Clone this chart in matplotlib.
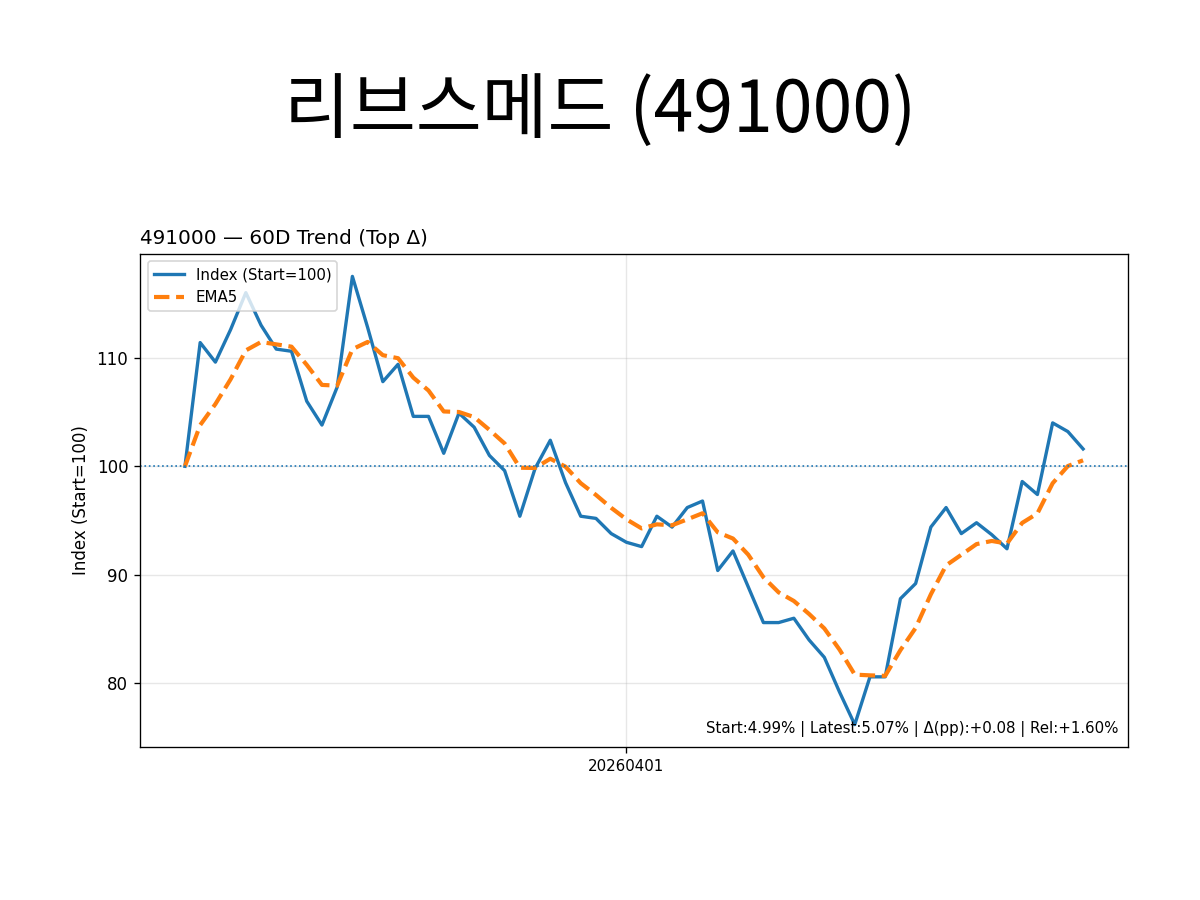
import numpy as np
import pandas as pd
import matplotlib
matplotlib.use("Agg")
import matplotlib.pyplot as plt

plt.rcParams['font.family'] = ['DejaVu Sans']

# 60-day index values (start = 100)
index_vals = [
    100.0, 111.4, 109.6, 112.6, 116.0, 113.0, 110.8, 110.6, 106.0, 103.8,
    107.3, 117.5, 112.8, 107.8, 109.4, 104.6, 104.6, 101.2, 104.9, 103.6,
    101.0, 99.6, 95.4, 99.8, 102.4, 98.5, 95.4, 95.2, 93.8, 93.0,
    92.6, 95.4, 94.4, 96.2, 96.8, 90.4, 92.2, 88.9, 85.6, 85.6,
    86.0, 84.0, 82.4, 79.2, 76.2, 80.6, 80.6, 87.8, 89.2, 94.4,
    96.2, 93.8, 94.8, 93.7, 92.4, 98.6, 97.4, 104.0, 103.2, 101.6,
]
tick_pos = [29]
tick_labels = ["20260401"]
title_main = "리브스메드 (491000)"
title_sub = "491000 — 60D Trend (Top Δ)"
note = "Start:4.99% | Latest:5.07% | Δ(pp):+0.08 | Rel:+1.60%"

s = pd.Series(index_vals)
ema5 = s.ewm(span=5, adjust=False).mean()
x = np.arange(len(s))

fig = plt.figure(figsize=(10, 7.5), dpi=120)
ax = fig.add_axes([0.1167, 0.17, 0.8233, 0.5478])

ax.plot(x, s, color='tab:blue', lw=2, label='Index (Start=100)')
ax.plot(x, ema5, color='tab:orange', lw=2.5, ls='--', label='EMA5')
ax.axhline(100, color='tab:blue', lw=1, ls=':')

ax.set_xticks(tick_pos)
ax.set_xticklabels(tick_labels, fontsize=9)
ax.tick_params(axis='y', labelsize=10)
ax.set_ylabel('Index (Start=100)', fontsize=10)
ax.set_title(title_sub, loc='left', fontsize=12)
ax.grid(True, alpha=0.3)
ax.legend(loc='upper left', fontsize=9)
ax.text(0.99, 0.02, note, transform=ax.transAxes, ha='right', va='bottom',
        fontsize=9)

fig.text(0.5, 0.875, title_main, ha='center', va='center', fontsize=43,
         family=['Noto Sans CJK KR', 'DejaVu Sans'])

fig.savefig('out.png', dpi=120)
